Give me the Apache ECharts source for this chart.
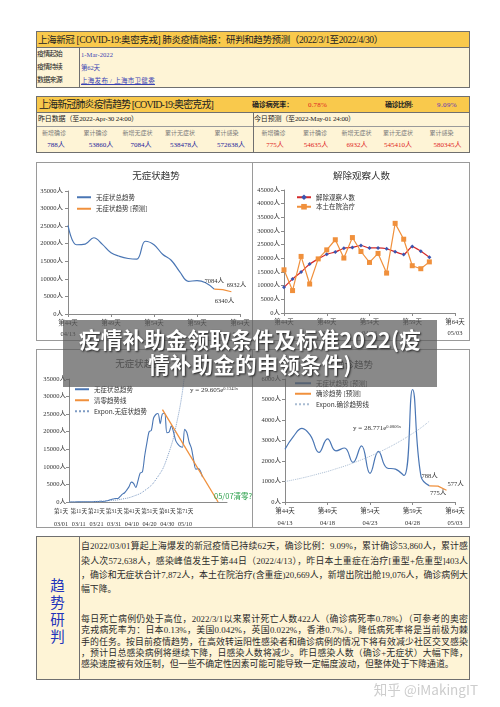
<!DOCTYPE html>
<html><head><meta charset="utf-8">
<script src="https://cdn.jsdelivr.net/npm/echarts@6.0.0/dist/echarts.min.js"></script>
<style>
html,body{margin:0;padding:0;background:#fff;}
body{width:500px;height:707px;position:relative;overflow:hidden;font-family:"Liberation Serif","Noto Sans CJK SC",serif;color:#222;}
.a{position:absolute;white-space:nowrap;box-sizing:border-box;}
.box{border:1px solid #6f6f6f;}
.yel{background:#F9C94C;}
.cream{background:#FEF4D6;}
.vl{width:1px;background:#6f6f6f;}
.c{transform:translateX(-50%);}
.lbl6{font-size:6px;color:#7a7a7a;line-height:12px;}
.val{font-size:7px;line-height:13px;}
.blue{color:#23239a;}
.red{color:#e02424;}
.ln{left:81px;width:387px;height:12px;line-height:12px;font-size:8.9px;text-align:justify;color:#2a2a2a;}
.full{text-align-last:justify;}
#chart{position:absolute;left:0;top:0;width:500px;height:707px;z-index:3;}
#banner{position:absolute;left:63px;top:320px;width:374px;height:67px;background:rgba(92,92,92,0.72);z-index:10;
 color:#fff;font-family:"Noto Sans CJK SC",sans-serif;font-weight:700;font-size:21.5px;line-height:25px;text-align:center;
 padding-top:6px;box-sizing:border-box;text-shadow:1px 1px 2px #222;letter-spacing:0.2px;}
#wm{position:absolute;right:22px;top:679px;font-family:"Noto Sans CJK SC",sans-serif;font-size:13.5px;color:#cdcdcd;z-index:11;}
</style></head><body>

<!-- Table 1 -->
<div class="a box cream" style="left:36px;top:31px;width:434px;height:57px;"></div>
<div class="a yel" style="left:37px;top:32px;width:432px;height:16px;border-bottom:1px solid #6f6f6f;"></div>
<div class="a" data-w="345" style="left:38px;top:32px;line-height:16px;font-size:9.5px;">上海新冠 [COVID-19:奥密克戎] 肺炎疫情简报：研判和趋势预测（2022/3/1至2022/4/30）</div>
<div class="a vl" style="left:79px;top:48px;height:39px;"></div>
<div class="a" data-w="25" style="left:37px;top:48px;line-height:13px;font-size:7px;">疫情起始</div>
<div class="a" data-w="25" style="left:37px;top:61px;line-height:13px;font-size:7px;">疫情持续</div>
<div class="a" data-w="25" style="left:37px;top:74px;line-height:13px;font-size:7px;">数据来源</div>
<div class="a" data-w="32" style="left:81px;top:48px;line-height:13px;font-size:6.5px;color:#3b44b4;">1-Mar-2022</div>
<div class="a" data-w="19" style="left:81px;top:61px;line-height:13px;font-size:6.5px;color:#3b44b4;">第62天</div>
<div class="a" data-w="74" style="left:81px;top:74px;line-height:13px;font-size:6.5px;color:#3b44b4;text-decoration:underline;">上海发布 / 上海市卫健委</div>

<!-- Table 2 -->
<div class="a box cream" style="left:36px;top:96px;width:434px;height:57px;"></div>
<div class="a yel" style="left:37px;top:97px;width:432px;height:16px;border-bottom:1px solid #6f6f6f;"></div>
<div class="a" data-w="174" style="left:39px;top:97px;line-height:16px;font-size:10px;">上海新冠肺炎疫情趋势 [COVID-19:奥密克戎]</div>
<div class="a" data-w="41" style="left:252px;top:97px;line-height:16px;font-size:7px;font-weight:700;">确诊病死率：</div>
<div class="a red" data-w="19" style="left:308px;top:97px;line-height:16px;font-size:7px;">0.78%</div>
<div class="a" data-w="28" style="left:385px;top:97px;line-height:16px;font-size:7px;font-weight:700;">确诊比例:</div>
<div class="a" data-w="20" style="left:437px;top:97px;line-height:16px;font-size:7px;color:#5a32b8;">9.09%</div>
<div class="a" style="left:37px;top:126px;width:432px;height:1px;background:#9a9a9a;"></div>
<div class="a vl" style="left:253px;top:113px;height:39px;"></div>
<div class="a" data-w="100" style="left:38px;top:113px;line-height:13px;font-size:7px;">昨日数据（至2022-Apr-30 24:00）</div>
<div class="a" data-w="101" style="left:254px;top:113px;line-height:13px;font-size:7px;">今日预测（至2022-May-01 24:00）</div>
<div id="lblrow"></div>

<!-- chart frames -->
<div class="a" style="left:36px;top:162px;width:434px;height:179px;border:1px solid #9a9a9a;"></div>
<div class="a" style="left:252px;top:162px;width:1px;height:179px;background:#9a9a9a;"></div>
<div class="a" style="left:36px;top:349px;width:434px;height:179px;border:1px solid #9a9a9a;"></div>
<div class="a" style="left:252px;top:349px;width:1px;height:179px;background:#9a9a9a;"></div>

<!-- text box -->
<div class="a box cream" style="left:36px;top:536px;width:434px;height:144px;"></div>
<div class="a vl" style="left:79px;top:537px;height:142px;"></div>
<div class="a" style="left:36px;top:576px;width:43px;text-align:center;font-family:'Noto Sans CJK SC',sans-serif;font-size:14.5px;line-height:17px;color:#2233bb;white-space:normal;">趋<br>势<br>研<br>判</div>
<div class="a ln full" style="top:540px;">自2022/03/01算起上海爆发的新冠疫情已持续62天，确诊比例：9.09%，累计确诊53,860人，累计感</div>
<div class="a ln full" style="top:555px;">染人次572,638人，感染峰值发生于第44日（2022/4/13），昨日本土重症在治疗[重型+危重型]403人</div>
<div class="a ln full" style="top:569px;">，确诊和无症状合计7,872人，本土在院治疗(含重症)20,669人，新增出院出舱19,076人，确诊病例大</div>
<div class="a ln" style="top:583px;">幅下降。</div>
<div class="a ln full" style="top:612.5px;">每日死亡病例仍处于高位，2022/3/1以来累计死亡人数422人（确诊病死率0.78%）（可参考的奥密</div>
<div class="a ln full" style="top:624px;">克戎病死率为：日本0.13%，美国0.042%，英国0.022%，香港0.7%）。降低病死率将是当前极为棘</div>
<div class="a ln full" style="top:635.5px;">手的任务。按目前疫情趋势，在高效转运阳性感染者和确诊病例的情况下将有效减少社区交叉感染</div>
<div class="a ln full" style="top:646.5px;">，预计日总感染病例将继续下降，日感染人数将减少。昨日感染人数（确诊+无症状）大幅下降，</div>
<div class="a ln" style="top:657.5px;">感染速度被有效压制，但一些不确定性因素可能可能导致一定幅度波动，但整体处于下降通道。</div>

<div id="chart"></div>
<div id="banner">疫情补助金领取条件及标准2022(疫<br>情补助金的申领条件)</div>
<div id="wm">知乎 @iMakingIT</div>

<script>
// ---------- data ----------
const statLabels = ['新增确诊','累计确诊','新增无症状','累计无症状','累计感染'];
const yesterdayValues = [788, 53860, 7084, 538478, 572638];
const todayForecastValues = [775, 54635, 6932, 545410, 580345];

const recentDays = ['第44天','第45天','第46天','第47天','第48天','第49天','第50天','第51天','第52天','第53天','第54天','第55天','第56天','第57天','第58天','第59天','第60天','第61天','第62天','第63天','第64天'];
const recentDates = ['04/13','04/14','04/15','04/16','04/17','04/18','04/19','04/20','04/21','04/22','04/23','04/24','04/25','04/26','04/27','04/28','04/29','04/30','05/01','05/02','05/03'];

const asymRecent = [25200,19700,19900,21700,19800,17400,16400,15800,15600,20700,19700,17000,15300,12000,9300,9500,8900,7084];
const asymForecast = [null,null,null,null,null,null,null,null,null,null,null,null,null,null,null,null,null,7084,6932,6340];

const releasedObs = [9400,12400,15000,17900,19800,21500,22300,23700,24000,24700,23800,23800,23500,22400,21400,24300,22600,20400];
const inHospital = [15800,8200,20700,10600,19800,23100,26800,20100,27600,22500,18500,21800,14600,32800,27000,17300,16200,18700];

const allDayTicks = ['第1天','第11天','第21天','第31天','第41天','第51天','第61天','第71天'];
const allDateTicks = ['03/01','03/11','03/21','03/31','04/10','04/20','04/30','05/10'];
const asymAll = [2,2,3,16,28,45,51,62,76,64,78,64,128,130,197,150,203,366,492,734,865,977,979,1580,2230,2630,3450,4380,5660,5300,4140,6050,8230,8580,13100,16800,20000,20400,23900,24900,25200,22300,25100,25200,19700,19900,21700,19800,17400,16400,15800,15600,20700,19700,17000,15300,12000,9300,9500,8900,7084];
const zeroTrendDays = [43, 68];
const zeroTrendValues = [26300, 0];
const asymExponDays = [1,10,20,25,30,35,40,45,50,52.7];
const asymExponValues = [34,113,434,850,1660,3250,6360,12400,24300,35000];

const confirmedRecent = [2573,3200,3590,3238,2417,3084,2494,2634,1931,2736,1401,2472,1661,1606,1292,5487,1249,788];
const confirmedForecast = [null,null,null,null,null,null,null,null,null,null,null,null,null,null,null,null,null,788,775,577];
const confirmedExpon = [1000,1080,1170,1270,1380,1490,1620,1750,1900,2060,2230,2420,2620,2840,3080,3340,3620,3950];

// ---------- table row 3/4 ----------
const labelCentersL = [54,95.5,137.5,180,226.5], labelCentersR = [273.5,315,356.5,398,441.5];
const valCentersL = [56,101,141,184,231], valCentersR = [275,316,357,398,447.5];
let html = '';
statLabels.forEach((t,i)=>{
  html += `<div class="a c lbl6" style="left:${labelCentersL[i]}px;top:127px;">${t}</div>`;
  html += `<div class="a c lbl6" style="left:${labelCentersR[i]}px;top:127px;">${t}</div>`;
  html += `<div class="a c val blue" style="left:${valCentersL[i]}px;top:139px;">${yesterdayValues[i]}人</div>`;
  html += `<div class="a c val red" style="left:${valCentersR[i]}px;top:139px;">${todayForecastValues[i]}人</div>`;
});
document.getElementById('lblrow').innerHTML = html;

// fit text widths
document.querySelectorAll('[data-w]').forEach(el=>{
  const target = +el.dataset.w;
  el.style.display='inline-block';
  const w = el.getBoundingClientRect().width;
  const n = [...el.textContent].length;
  el.style.letterSpacing = ((target - w)/n).toFixed(2)+'px';
});

// ---------- chart ----------
const FF = 'Liberation Serif, Noto Sans CJK SC, serif';
const axCol = '#8a8a8a';
const lbl = {fontSize:7, color:'#333', fontFamily:FF};
const BLUE = '#4a76b4', ORANGE = '#F0903C';
const yFmt = v => v + '人';

function catX(gi, lh, margin){
  return {type:'category', gridIndex:gi, data:recentDays, boundaryGap:false,
    axisLine:{lineStyle:{color:axCol}},
    axisTick:{show:true, interval:4, length:3, lineStyle:{color:axCol}},
    axisLabel:{...lbl, fontSize:6.5, interval:4, margin:margin, lineHeight:lh, formatter:(v,i)=>v+'\n'+recentDates[i]},
    splitLine:{show:false}};
}
function valY(gi, max, interval, margin){
  return {type:'value', gridIndex:gi, min:0, max, interval,
    axisLine:{show:true, lineStyle:{color:axCol}},
    axisTick:{show:true, length:3, lineStyle:{color:axCol}},
    splitLine:{show:false},
    axisLabel:{...lbl, fontSize:6.5, margin, formatter:yFmt}};
}
const dl = {fontSize:6.5, color:'#333', fontFamily:FF, formatter:p=>p.value+'人'};
function withLabels(arr, cfg){
  return arr.map((v,i)=> v==null ? null : (cfg[i] ? {value:v, label:{show:true, ...dl, ...cfg[i]}} : v));
}
const legendText = {fontSize:6.5, color:'#333', fontFamily:'Noto Sans CJK SC, sans-serif'};
const noSym = {symbol:'none', showSymbol:false, symbolSize:0};
const tinySym = {symbol:'circle', showSymbol:true, symbolSize:0.01};

const option = {
  animation:false,
  backgroundColor:'transparent',
  grid:[
    {left:68, top:191, width:172, height:123},
    {left:284, top:190, width:171, height:123},
    {left:69, top:379, width:158, height:123},
    {left:61, top:379, width:124, height:123},
    {left:285, top:379, width:170, height:123}
  ],
  xAxis:[
    catX(0, 11, 4),
    catX(1, 11, 4),
    {type:'value', gridIndex:2, min:1, max:72, axisLine:{lineStyle:{color:axCol}}, axisTick:{show:false}, axisLabel:{show:false}, splitLine:{show:false}},
    {type:'category', gridIndex:3, data:allDayTicks, boundaryGap:false, axisLine:{show:false}, axisTick:{show:false},
      axisLabel:{...lbl, interval:0, margin:3, hideOverlap:false, formatter:(v,i)=>'{d|'+v+'}\n{t|'+allDateTicks[i]+'}',
        rich:{d:{fontSize:5.6, lineHeight:13, fontFamily:FF, color:'#333'}, t:{fontSize:6.2, lineHeight:13, fontFamily:FF, color:'#333'}}}},
    catX(4, 12, 3)
  ],
  yAxis:[
    valY(0, 35000, 5000, 5),
    valY(1, 45000, 5000, 4),
    valY(2, 35000, 5000, 3),
    {type:'value', gridIndex:3, show:false},
    valY(4, 6000, 1000, 4)
  ],
  legend:[
    {data:['无症状总趋势','无症状趋势 [预测]'], left:76, top:194, orient:'vertical', itemGap:5, itemWidth:14, itemHeight:6, textStyle:legendText, selectedMode:false, padding:0, itemStyle:{opacity:0}},
    {data:['解除观察人数','本土在院治疗'], left:296, top:194, orient:'vertical', itemGap:3, itemWidth:14, itemHeight:7, textStyle:legendText, selectedMode:false, padding:0},
    {data:['无症状总趋势\u200b','清零趋势线','Expon.无症状趋势'], left:74, top:386, orient:'vertical', itemGap:4.5, itemWidth:14, itemHeight:8, textStyle:legendText, selectedMode:false, padding:0, itemStyle:{opacity:0}},
    {data:['无症状趋势 [预测]\u200b','确诊趋势 [预测]','Expon.确诊趋势线'], left:294, top:380, orient:'vertical', itemGap:4, itemWidth:16, itemHeight:8, textStyle:legendText, selectedMode:false, padding:0, itemStyle:{opacity:0}}
  ],
  graphic:[
    {type:'text', x:156, y:175, style:{text:'无症状趋势', textAlign:'center', textVerticalAlign:'middle', fontSize:9.5, fill:'#333', fontFamily:'Noto Sans CJK SC, sans-serif'}},
    {type:'text', x:361.5, y:175, style:{text:'解除观察人数', textAlign:'center', textVerticalAlign:'middle', fontSize:9.5, fill:'#333', fontFamily:'Noto Sans CJK SC, sans-serif'}},
    {type:'text', x:139, y:363.5, style:{text:'无症状趋势', textAlign:'center', textVerticalAlign:'middle', fontSize:9.5, fill:'#333', fontFamily:'Noto Sans CJK SC, sans-serif'}},
    {type:'text', x:354, y:364, style:{text:'确诊趋势', textAlign:'center', textVerticalAlign:'middle', fontSize:9.5, fill:'#333', fontFamily:'Noto Sans CJK SC, sans-serif'}},
    {type:'text', x:190, y:390, style:{text:'{a|y = 29.605e}{s|0.1343x}', textVerticalAlign:'middle', rich:{a:{fontSize:7, fontFamily:FF, fill:'#333', color:'#333'}, s:{fontSize:4.5, fontFamily:FF, verticalAlign:'top', fill:'#333', color:'#333'}}}},
    {type:'text', x:353, y:428, style:{text:'{a|y = 28.771e}{s|0.0806x}', textVerticalAlign:'middle', rich:{a:{fontSize:7, fontFamily:FF, fill:'#333', color:'#333'}, s:{fontSize:4.5, fontFamily:FF, verticalAlign:'top', fill:'#333', color:'#333'}}}}
  ],
  series:[
    {name:'无症状总趋势', type:'line', xAxisIndex:0, yAxisIndex:0, data:asymRecent, smooth:0.4, ...noSym, lineStyle:{color:BLUE, width:1.2}, itemStyle:{color:BLUE}},
    {name:'无症状趋势 [预测]', type:'line', xAxisIndex:0, yAxisIndex:0, ...tinySym, lineStyle:{color:ORANGE, width:1.2}, itemStyle:{color:ORANGE},
      data:withLabels(asymForecast, {17:{position:'top', distance:5, offset:[0,0]}, 18:{position:'right', distance:4, offset:[0,-4]}, 19:{position:'bottom', distance:6, offset:[-7,0]}})},
    {name:'解除观察人数', type:'line', xAxisIndex:1, yAxisIndex:1, data:releasedObs, smooth:0.2, symbol:'diamond', symbolSize:4, lineStyle:{color:'#d42a2a', width:1.2}, itemStyle:{color:'#3a55b0'}},
    {name:'本土在院治疗', type:'line', xAxisIndex:1, yAxisIndex:1, data:inHospital, symbol:'rect', symbolSize:5, lineStyle:{color:ORANGE, width:1.2}, itemStyle:{color:ORANGE}},
    {name:'无症状总趋势\u200b', type:'line', xAxisIndex:2, yAxisIndex:2, data:asymAll.map((v,i)=>[i+1,v]), smooth:0.3, ...noSym, lineStyle:{color:BLUE, width:1.1}, itemStyle:{color:BLUE}},
    {name:'清零趋势线', type:'line', xAxisIndex:2, yAxisIndex:2, ...tinySym, lineStyle:{color:ORANGE, width:1.3}, itemStyle:{color:ORANGE},
      data:zeroTrendDays.map((d,i)=> i===zeroTrendDays.length-1 ? {value:[d,zeroTrendValues[i]], label:{show:true, position:'top', distance:2, offset:[15,0], formatter:'05/07清零?', fontSize:7.5, color:'#2fa24e', fontFamily:'Noto Sans CJK SC, sans-serif'}} : [d,zeroTrendValues[i]])},
    {name:'Expon.无症状趋势', type:'line', xAxisIndex:2, yAxisIndex:2, data:asymExponDays.map((d,i)=>[d,asymExponValues[i]]), smooth:true, ...noSym, lineStyle:{color:'#7f9cc4', width:1, type:'dotted'}, itemStyle:{color:'#7f9cc4'}},
    {name:'无症状趋势 [预测]\u200b', type:'line', xAxisIndex:4, yAxisIndex:4, data:confirmedRecent, smooth:0.45, ...noSym, lineStyle:{color:BLUE, width:1.2}, itemStyle:{color:BLUE}},
    {name:'确诊趋势 [预测]', type:'line', xAxisIndex:4, yAxisIndex:4, ...tinySym, lineStyle:{color:ORANGE, width:1.2}, itemStyle:{color:ORANGE},
      data:withLabels(confirmedForecast, {17:{position:'top', distance:6, offset:[0,0]}, 18:{position:'bottom', distance:4, offset:[0,0]}, 19:{position:'top', distance:3, offset:[9,0]}})},
    {name:'Expon.确诊趋势线', type:'line', xAxisIndex:4, yAxisIndex:4, data:confirmedExpon, smooth:true, ...noSym, lineStyle:{color:'#a9bcd2', width:1, type:'dotted'}, itemStyle:{color:'#a9bcd2'}}
  ]
};
const chart = echarts.init(document.getElementById('chart'), null, {renderer:'canvas'});
chart.setOption(option);
</script>
</body></html>
